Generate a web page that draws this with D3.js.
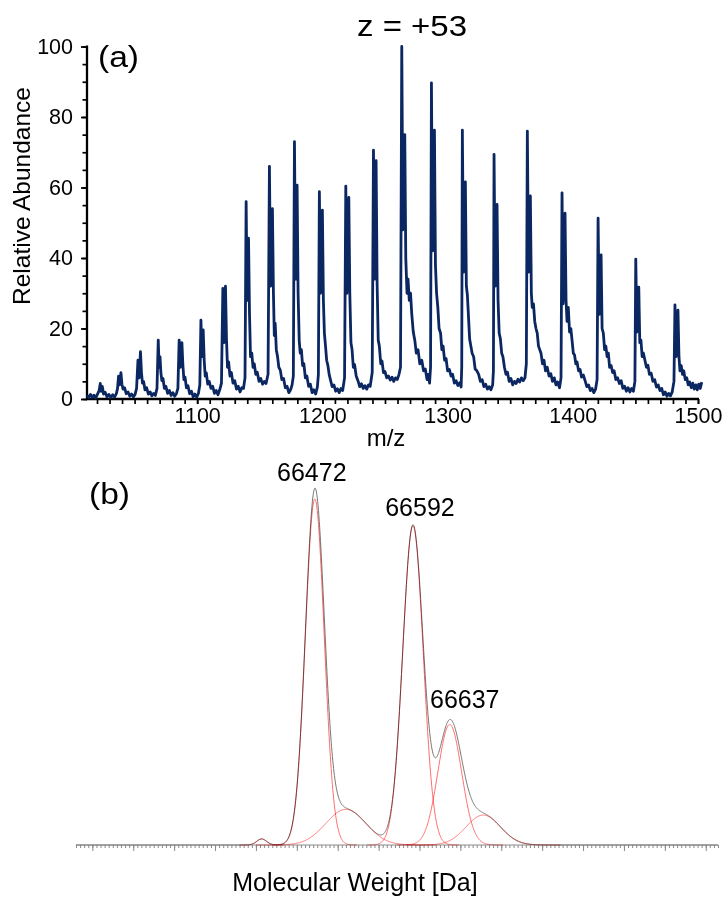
<!DOCTYPE html>
<html><head><meta charset="utf-8">
<script src="https://cdn.jsdelivr.net/npm/d3@7/dist/d3.min.js"></script>
<style>
body{margin:0;background:#fff}
svg{display:block}
text{font-family:Arial,"Liberation Sans",sans-serif;fill:#000}
</style>
</head><body>
<svg id="c" width="728" height="907"></svg>
<script>
// ---------- panel (a): ESI mass spectrum, [m/z, relative abundance] ----------
const spectrum = [
[1012,1.0],[1013.4,0.4],[1014.8,1.3],[1016.2,0.5],[1017.6,1.1],[1019,0.3],[1020.4,1.4],[1021.7,2.4],
[1022.6,4.4],[1023.4,2.2],[1024.2,3.6],[1025.2,1.4],[1026.5,1.9],[1028,0.6],[1029.5,1.3],[1031,0.4],[1032.5,1.2],[1034,0.5],[1035.5,1.6],[1036.4,3.0],
[1037.2,6.5],[1038.0,4.0],[1039.1,7.5],[1039.9,4.2],[1040.8,2.8],[1042,3.2],[1043.3,1.5],[1044.8,2.0],[1046.2,0.8],[1047.6,1.4],[1049,0.6],[1050.4,1.3],[1051.6,3.0],
[1052.7,11.0],[1053.6,6.0],[1054.7,13.4],[1055.5,7.5],[1056.3,4.5],[1057.2,5.0],[1058.3,2.6],[1059.6,3.2],[1061,1.4],[1062.4,2.0],[1063.8,0.9],[1065.2,1.6],[1066.6,1.0],[1067.9,3.0],
[1068.9,16.7],[1069.6,9],[1070.3,12],[1071.0,7.5],[1071.8,5.2],[1072.7,5.8],[1073.8,3.0],[1075,3.6],[1076.4,1.6],[1077.8,2.4],[1079.2,1.0],[1080.6,1.8],[1082,0.8],[1083.4,1.5],[1084.6,3.0],
[1085.6,16.7],[1086.5,9.0],[1087.8,16.0],[1088.6,9.5],[1089.4,5.5],[1090.3,6.2],[1091.4,3.2],[1092.6,3.8],[1094,1.5],[1095.4,2.2],[1096.8,0.6],[1098.2,1.4],[1099.6,0.5],[1101,1.6],[1102.1,4.0],
[1103.0,22.4],[1103.8,12],[1104.8,19.6],[1105.6,11],[1106.4,6.5],[1107.3,7.4],[1108.4,4.2],[1109.6,5.0],[1111,3.0],[1112.4,3.6],[1113.8,1.6],[1115.2,2.4],[1116.6,1.2],[1118,2.6],[1119.4,4.5],
[1120.5,31.4],[1121.4,16],[1122.6,32],[1123.4,17],[1124.2,9],[1125.1,10.5],[1126.2,6.5],[1127.3,7.5],[1128.6,4.5],[1130,5.2],[1131.4,2.8],[1132.8,3.6],[1134.2,2.0],[1135.6,3.2],[1137,3.0],[1138.2,6.0],
[1139.1,56],[1139.9,28],[1141.0,45.6],[1141.8,24],[1142.6,12],[1143.6,13],[1144.6,9],[1145.6,10],[1146.8,7],[1148,7.6],[1149.4,5],[1150.8,5.8],[1152.2,4.2],[1153.6,5],[1155,4.4],[1156.6,7],
[1157.7,66],[1158.6,32],[1160.1,54],[1160.9,30],[1161.6,18],[1162.3,21.5],[1163.2,14],[1164.2,12],[1165.2,9],[1166.4,8.2],[1167.6,5.5],[1169,5.8],[1170.4,3.2],[1171.8,3.6],[1173.2,1.8],[1174.6,2.6],[1175.8,4.0],[1176.8,6.5],
[1177.7,73],[1178.6,34],[1179.8,60.7],[1180.6,30],[1181.5,16.5],[1182.3,13],[1183.2,14],[1184.2,9.5],[1185.2,10],[1186.4,6],[1187.6,6.5],[1189,3.6],[1190.4,4.2],[1191.8,1.8],[1193.2,2.6],[1194.6,1.4],[1196,3.4],[1196.8,7],
[1197.6,58.8],[1198.5,30],[1200.0,53.6],[1200.8,28],[1201.6,18.7],[1202.5,15],[1203.4,11],[1204.4,9.5],[1205.4,7],[1206.6,5.2],[1207.8,3.5],[1209.2,4],[1210.6,2.2],[1212,2.9],[1213.4,1.8],[1214.8,3],[1216.2,2.4],[1217.7,6],
[1218.7,60.4],[1219.6,30],[1221.1,57.2],[1221.9,30],[1222.8,16],[1223.7,14],[1224.7,9],[1225.7,9.8],[1227,6.5],[1228.4,5.2],[1229.8,3.5],[1231.2,4.3],[1232.6,3],[1234,3.8],[1235.4,2.8],[1236.8,4],[1238.2,3.6],[1239.8,7.5],
[1240.8,70.6],[1241.7,34],[1242.9,67.6],[1243.7,33],[1244.6,16.7],[1245.5,15],[1246.6,10],[1247.6,10.8],[1248.8,7.5],[1250,7.8],[1251.4,6],[1252.8,6.5],[1254.2,5.4],[1255.6,6.2],[1257,5],[1258.4,6],[1259.8,5.5],[1261.2,7],[1262.4,9],
[1263.4,100],[1264.3,48],[1265.8,75],[1266.6,40],[1267.6,30],[1268.4,34],[1269.4,28],[1270.4,30],[1271.4,24],[1272.6,19],[1273.8,16.7],[1275,13],[1276.4,14],[1277.8,10],[1279.4,11],[1280.8,8],[1282.2,8.5],[1283.6,5.5],[1284.6,7],[1285.6,4.5],[1286.4,9],
[1287.1,89.7],[1288.0,42],[1289.5,76.3],[1290.3,38],[1291.2,30],[1292.2,26],[1293.2,20],[1294.4,18.7],[1295.4,14],[1296.4,15],[1297.6,11],[1298.8,11.5],[1300,8],[1301.4,8.4],[1302.8,6.5],[1304,7],[1305.4,4.5],[1306.8,5.2],[1308.2,3.8],[1309.6,4.6],[1310.8,3.4],[1311.3,9],
[1311.8,76.3],[1312.7,36],[1314.2,61.6],[1315,32],[1315.8,29.5],[1316.6,24],[1317.6,17],[1318.6,15],[1319.6,13],[1320.8,12],[1322,8.5],[1323.4,8],[1324.8,7],[1326.2,5],[1327.6,5.5],[1329,3.5],[1330.4,4.2],[1331.8,2.8],[1333.2,3.5],[1334.6,2.6],[1336,4],[1336.6,8],
[1337.1,69.4],[1338,32],[1339.5,55.2],[1340.3,28],[1341.2,18.7],[1342.2,17],[1343.2,13],[1344.2,12],[1345.4,9],[1346.6,7],[1347.8,7.6],[1349.2,5],[1350.6,5.8],[1352,4],[1353.4,5],[1354.8,4.4],[1356.2,5.6],[1357.6,4.8],[1359,6],[1360.4,5.2],[1361.8,6],[1362.9,10],
[1363.7,76],[1364.6,36],[1366.1,57.6],[1366.9,30],[1367.6,26],[1368.6,27],[1369.6,22],[1370.6,20],[1371.6,18.7],[1372.6,15],[1373.6,14],[1374.6,13],[1375.8,10],[1377,11],[1378.2,8],[1379.6,9],[1381,6.5],[1382.4,7.2],[1383.8,5],[1385.2,6],[1386.6,4],[1388,4.8],[1389.4,3.2],[1390.6,6],
[1391.4,58.5],[1392.3,27],[1393.8,52.7],[1394.6,28],[1395.4,22],[1396.4,26],[1397.4,19],[1398.4,20],[1399.4,16.7],[1400.4,13],[1401.4,12.5],[1402.4,10],[1403.4,10.5],[1404.6,8],[1405.8,8.4],[1407,6.2],[1408.4,6.8],[1409.8,5.2],[1411.2,3.5],[1412.6,4],[1414,2.4],[1415.4,3],[1416.8,1.8],[1418.2,2.8],[1419.4,5.5],
[1420.2,51.3],[1421.1,24],[1422.6,40.9],[1423.4,20],[1424.4,18.7],[1425.4,14],[1426.4,15],[1427.4,12],[1428.4,13],[1429.4,9],[1430.6,9.5],[1431.8,7.5],[1433,8],[1434.4,5.5],[1435.8,6],[1437.2,4.4],[1438.6,5.2],[1440,3],[1441.4,3.6],[1442.8,2.2],[1444.2,3.2],[1445.6,2],[1447,3],[1448.4,2.2],[1449.6,5],
[1450.3,39.7],[1451.2,19],[1452.7,31.7],[1453.5,16],[1454.4,16.7],[1455.4,12],[1456.4,13],[1457.6,11],[1458.8,9],[1460,9.6],[1461.2,7],[1462.6,7.3],[1464,5],[1465.4,5.5],[1466.8,3.4],[1468.2,4],[1469.6,2.4],[1471,3],[1472.4,1.2],[1473.8,2],[1475.2,0.8],[1476.6,1.6],[1478,0.9],[1479.4,2],[1480.8,5],
[1481.6,26.7],[1482.5,12],[1484.0,25.2],[1484.8,12],[1485.6,8],[1486.6,9.5],[1487.6,7],[1488.6,8],[1489.8,5.5],[1491,6],[1492.2,4],[1493.4,4.8],[1494.6,3.2],[1495.8,4.5],[1497,2.8],[1498.2,4],[1499.4,2.6],[1500.6,4.2],[1501.8,3],[1503,4.8]
];
const yTicksA = [0, 20, 40, 60, 80, 100];
const xTicksA = [1100, 1200, 1300, 1400, 1500];
const titleA = "z = +53";

// ---------- panel (b): deconvoluted components ----------
const compCentres = [66407, 66472, 66510, 66592, 66637, 66678];   // Da
const compHeights = [1.7, 97, 10, 89.5, 33.8, 8.4];                // relative
const compWidths  = [6, 11.5, 24.5, 12.5, 14.5, 21];               // sigma, Da
const labelMasses = [66472, 66592, 66637];
const labelTexts  = ["66472", "66592", "66637"];

const svg = d3.select("#c");

// ================= panel (a) =================
const xA = d3.scaleLinear().domain([1012, 1500]).range([87, 698]);
const yA = d3.scaleLinear().domain([0, 100]).range([399, 46.5]);

const gA = svg.append("g");
const yMin = gA.append("g").attr("transform", "translate(87,0)")
  .call(d3.axisLeft(yA).tickValues(d3.range(0, 101, 5)).tickSize(4.5).tickFormat(""));
yMin.select(".domain").remove();
const yMaj = gA.append("g").attr("transform", "translate(87,0)")
  .call(d3.axisLeft(yA).tickValues(yTicksA).tickSize(6).tickPadding(8));
yMaj.select(".domain").remove();
const xMin = gA.append("g").attr("transform", "translate(0,399)")
  .call(d3.axisBottom(xA).tickValues(d3.range(1020, 1501, 10)).tickSize(5).tickFormat(""));
xMin.select(".domain").remove();
const xMaj = gA.append("g").attr("transform", "translate(0,399)")
  .call(d3.axisBottom(xA).tickValues(xTicksA).tickSize(5).tickPadding(4).tickFormat(d3.format("d")));
xMaj.select(".domain").remove();
gA.selectAll(".tick line").attr("stroke", "#000").attr("stroke-width", 1.7);
gA.selectAll(".tick text").attr("font-size", 21.5).attr("font-family", "Arial, 'Liberation Sans', sans-serif").attr("fill", "#000");
gA.append("line").attr("x1", 87).attr("x2", 87).attr("y1", yA(0) + 1).attr("y2", yA(100) - 1)
  .attr("stroke", "#000").attr("stroke-width", 2.3);
gA.append("line").attr("x1", 86).attr("x2", xA(1500) + 1).attr("y1", yA(0)).attr("y2", yA(0))
  .attr("stroke", "#000").attr("stroke-width", 2.3);

gA.append("path").datum(spectrum)
  .attr("d", d3.line().x(d => xA(d[0])).y(d => yA(d[1])))
  .attr("fill", "none").attr("stroke", "#0b2762").attr("stroke-width", 2.8)
  .attr("stroke-linejoin", "round");

svg.append("text").attr("transform", "translate(357,36) scale(1.1,1)")
  .attr("font-size", 30).text(titleA);
svg.append("text").attr("transform", "translate(98,67) scale(1.12,1)")
  .attr("font-size", 30).text("(a)");
svg.append("text").attr("transform", "translate(30,196) rotate(-90)")
  .attr("text-anchor", "middle").attr("font-size", 24.5).text("Relative Abundance");
svg.append("text").attr("x", 386).attr("y", 446).attr("text-anchor", "middle")
  .attr("font-size", 24).text("m/z");

// ================= panel (b) =================
const xB = d3.scaleLinear().domain([66180, 66965]).range([76, 718]);
const yB = d3.scaleLinear().domain([0, 100]).range([845, 488.3]);
const gB = svg.append("g");

const bMin = gB.append("g").attr("transform", "translate(0,845)")
  .call(d3.axisBottom(xB).tickValues(d3.range(66180, 66966, 5)).tickSize(3).tickFormat(""));
bMin.select(".domain").remove();
const bMaj = gB.append("g").attr("transform", "translate(0,845)")
  .call(d3.axisBottom(xB).tickValues(d3.range(66200, 66951, 50)).tickSize(6).tickFormat(""));
bMaj.select(".domain").remove();
gB.selectAll(".tick line").attr("stroke", "#8a8a8a").attr("stroke-width", 1);
gB.append("line").attr("x1", 76).attr("x2", 718).attr("y1", 845).attr("y2", 845)
  .attr("stroke", "#8a8a8a").attr("stroke-width", 1);

const masses = d3.range(66180, 66965.01, 0.5);
const comp = (i, m) => compHeights[i] * Math.exp(-0.5 * Math.pow((m - compCentres[i]) / compWidths[i], 2));
const total = masses.map(m => [m, d3.sum(compCentres, (c, i) => comp(i, m))]);
const lineB = d3.line().x(d => xB(d[0])).y(d => yB(d[1]));

gB.append("path").datum(total).attr("d", lineB)
  .attr("fill", "none").attr("stroke", "#777").attr("stroke-width", 1);

compCentres.forEach((c, i) => {
  const pts = masses.filter(m => Math.abs(m - c) <= 4.5 * compWidths[i]).map(m => [m, comp(i, m)]);
  gB.append("path").datum(pts).attr("d", lineB)
    .attr("fill", "none").attr("stroke", "#ff6b6b").attr("stroke-width", 1)
    .style("mix-blend-mode", "multiply");
});

const labDx = [-3, 7, 15], labDy = [-7, -9, -11];
labelMasses.forEach((m, i) => {
  const v = d3.sum(compCentres, (c, j) => comp(j, m));
  svg.append("text").attr("x", xB(m) + labDx[i]).attr("y", yB(v) + labDy[i])
    .attr("text-anchor", "middle").attr("font-size", 25).text(labelTexts[i]);
});

svg.append("text").attr("transform", "translate(89,504) scale(1.12,1)")
  .attr("font-size", 30).text("(b)");
svg.append("text").attr("x", 355).attr("y", 891).attr("text-anchor", "middle")
  .attr("font-size", 25).text("Molecular Weight [Da]");
</script>
</body></html>
